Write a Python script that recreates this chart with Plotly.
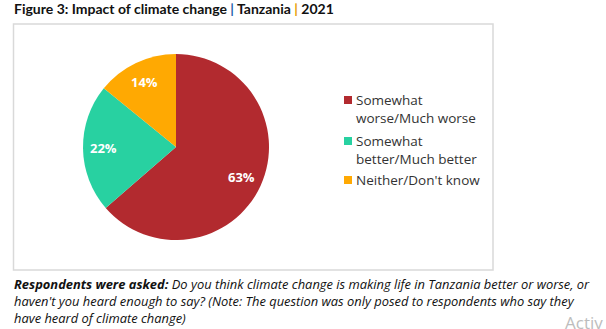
import math
import plotly.graph_objects as go

categories = ["Somewhat<br>worse/Much worse", "Somewhat<br>better/Much better", "Neither/Don't know"]
values = [63, 22, 14]
value_labels = ["63%", "22%", "14%"]
colors = ["#B22A2F", "#28D1A1", "#FFA902"]

W, H = 606, 329
FONT = "Open Sans"

def px_x(x):
    return x / W

def px_y(y):
    return 1 - y / H

cx, cy, r = 176, 147, 93

fig = go.Figure(go.Pie(
    labels=categories,
    values=values,
    textinfo="none",
    marker=dict(colors=colors, line=dict(width=0)),
    sort=False,
    direction="clockwise",
    rotation=0,
    hoverinfo="label+percent",
    showlegend=False,
    domain=dict(x=[px_x(cx - r), px_x(cx + r)], y=[px_y(cy + r), px_y(cy - r)]),
))

annotations = []
shapes = []

# slice labels placed at ~0.78 of the radius, at each slice's mid-angle
total = sum(values)
cum = 0
for v, lab in zip(values, value_labels):
    mid = (cum + v / 2) / total * 2 * math.pi
    cum += v
    lx = cx + math.sin(mid) * r * 0.78
    ly = cy - math.cos(mid) * r * 0.78
    annotations.append(dict(
        text="<b>" + lab + "</b>", x=px_x(lx), y=px_y(ly), xref="paper", yref="paper",
        xanchor="center", yanchor="middle", showarrow=False,
        font=dict(size=13, color="white", family=FONT),
    ))

# legend (squares + labels)
legend_x = 355
legend_first_line = [99, 140, 179]
for cat, col, ly in zip(categories, colors, legend_first_line):
    shapes.append(dict(
        type="rect", xref="paper", yref="paper",
        x0=px_x(344), x1=px_x(352), y0=px_y(ly + 5), y1=px_y(ly - 3),
        line=dict(width=0), fillcolor=col,
    ))
    annotations.append(dict(
        text=cat, x=px_x(legend_x - 1), y=px_y(ly - 10), xref="paper", yref="paper",
        xanchor="left", yanchor="top", align="left", showarrow=False,
        font=dict(size=13.5, color="#333333", family=FONT),
    ))

annotations += [
    dict(
        text=("<b>Figure 3: Impact of climate change <span style='color:#1F5FA8'>|</span> "
              "Tanzania <span style='color:#E69A00'>|</span> 2021</b>"),
        x=px_x(12), y=px_y(9), xref="paper", yref="paper",
        xanchor="left", yanchor="middle", showarrow=False,
        font=dict(size=14, color="#111111", family="Lato"),
    ),
    dict(
        text=("<b><i>Respondents were asked:</i></b><i> Do you think climate change is making life in Tanzania better or worse, or<br>"
              "haven't you heard enough to say? (Note: The question was only posed to respondents who say they<br>"
              "have heard of climate change)</i>"),
        x=px_x(12), y=px_y(273), xref="paper", yref="paper",
        xanchor="left", yanchor="top", align="left", showarrow=False,
        font=dict(size=12.9, color="#111111", family=FONT),
    ),
    dict(
        text="Activ",
        x=px_x(563), y=px_y(322), xref="paper", yref="paper",
        xanchor="left", yanchor="middle", showarrow=False,
        font=dict(size=17, color="#BDBDBD", family="Open Sans"),
    ),
]

shapes.insert(0, dict(
    type="rect", xref="paper", yref="paper",
    x0=px_x(13.5), x1=px_x(493), y0=px_y(270), y1=px_y(24),
    line=dict(color="#D9D9D9", width=1.5), fillcolor="rgba(0,0,0,0)", layer="below",
))

fig.update_layout(
    width=W, height=H,
    margin=dict(l=0, r=0, t=0, b=0),
    paper_bgcolor="white",
    plot_bgcolor="white",
    font=dict(family=FONT, color="#222222"),
    showlegend=False,
    shapes=shapes,
    annotations=annotations,
)

fig.write_html("out.html")
